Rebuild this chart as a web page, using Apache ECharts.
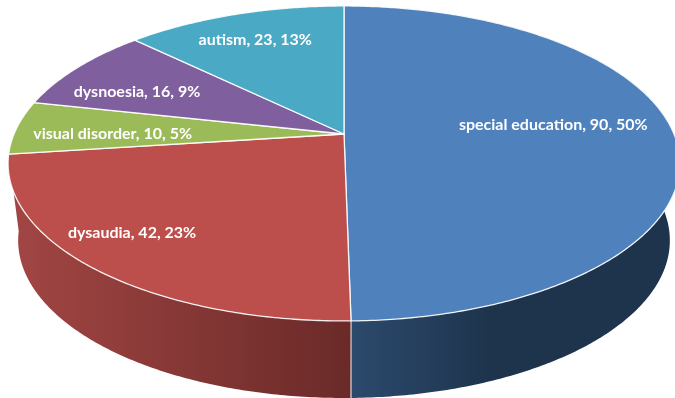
<!DOCTYPE html>
<html>
<head>
<meta charset="utf-8">
<style>html,body{margin:0;padding:0;background:#fff;overflow:hidden}#c{width:675px;height:398px}</style>
<script src="https://cdn.jsdelivr.net/npm/echarts@6/dist/echarts.min.js"></script>
</head>
<body>
<div id="c"></div>
<script>
const categories = ['special education', 'dysaudia', 'visual disorder', 'dysnoesia', 'autism'];
const values = [90, 42, 10, 16, 23];
const percents = [50, 23, 5, 9, 13];

const topColors = ['#4f81bd', '#bc4e4c', '#9bbb59', '#7f5f9d', '#4aa9c4'];
const labelOffsets = [[11.5, -8.5], [-70.6, 23.6], [-34.5, 4], [-41.5, -1], [-19, -18]];

// perspective view of the pie disc
const view = { cx: 344, cy: 134, a: 330, b: 152, k: 0.187, depth: 77, floorScale: 0.97 };
const total = values.reduce((s, v) => s + v, 0);
const cum = [0];
values.forEach((v, i) => cum.push(cum[i] + v));
const angleOf = (c) => c / total * 2 * Math.PI;

function project(theta, r) {
  const u = r * Math.sin(theta), v = r * Math.cos(theta), w = 1 + view.k * v;
  return [view.cx + view.a * u / w, view.cy - view.b * v / w];
}
function floor(p) {
  return [view.cx + (p[0] - view.cx) * view.floorScale, p[1] + view.depth];
}
function arc(t0, t1) {
  const n = Math.max(2, Math.ceil((t1 - t0) / 0.01)), pts = [];
  for (let j = 0; j <= n; j++) pts.push(project(t0 + (t1 - t0) * j / n, 1));
  return pts;
}
const sideFills = [
  { type: 'linear', x: 351, y: 0, x2: 680, y2: 0, global: true,
    colorStops: [{ offset: 0, color: '#2c4a6d' }, { offset: 0.42, color: '#1e344d' }, { offset: 1, color: '#1e334c' }] },
  { type: 'linear', x: 351, y: 0, x2: 9, y2: 0, global: true,
    colorStops: [{ offset: 0, color: '#6a2a28' }, { offset: 1, color: '#a24644' }] }
];

function renderSide(params, api) {
  const i = api.value(1);
  if (i > 1) return { type: 'group', children: [] };
  const t0 = angleOf(cum[i]), t1 = angleOf(cum[i] + api.value(0));
  const rim = arc(i === 0 ? 0.5 : t0, t1);
  const pts = rim.concat(rim.slice().reverse().map(floor));
  const children = [{ type: 'polygon', shape: { points: pts }, style: { fill: sideFills[i] } }];
  if (i === 0) {
    const p = project(t1, 1), q = floor(p);
    children.push({ type: 'line', shape: { x1: p[0], y1: p[1], x2: p[0], y2: q[1] },
      style: { stroke: 'rgba(235,235,235,0.85)', lineWidth: 1.2 }, z2: 5 });
  }
  return { type: 'group', children };
}

function renderTop(params, api) {
  const i = api.value(1);
  const t0 = angleOf(cum[i]), t1 = angleOf(cum[i] + api.value(0));
  const pts = [[view.cx, view.cy]].concat(arc(t0, t1));
  return { type: 'polygon', shape: { points: pts },
    style: { fill: topColors[i], stroke: 'rgba(255,255,255,0.9)', lineWidth: 1.3, lineJoin: 'round' } };
}

function renderLabel(params, api) {
  const i = api.value(1);
  const p = project(angleOf(cum[i] + api.value(0) / 2), 0.6);
  return { type: 'text', x: p[0] + labelOffsets[i][0], y: p[1] + labelOffsets[i][1],
    style: { text: categories[i] + ', ' + api.value(0) + ', ' + percents[i] + '%',
      fill: '#fff', font: 'bold 16px Lato', align: 'center', verticalAlign: 'middle' } };
}

const rows = values.map((v, i) => [v, i]);
const chart = echarts.init(document.getElementById('c'), null, { renderer: 'canvas' });
chart.setOption({
  animation: false,
  backgroundColor: '#fff',
  series: [
    { type: 'custom', coordinateSystem: 'none', data: rows, renderItem: renderSide, silent: true, clip: false },
    { type: 'custom', coordinateSystem: 'none', data: rows, renderItem: renderTop, silent: true, clip: false },
    { type: 'custom', coordinateSystem: 'none', data: rows, renderItem: renderLabel, silent: true, clip: false }
  ]
});
</script>
</body>
</html>
